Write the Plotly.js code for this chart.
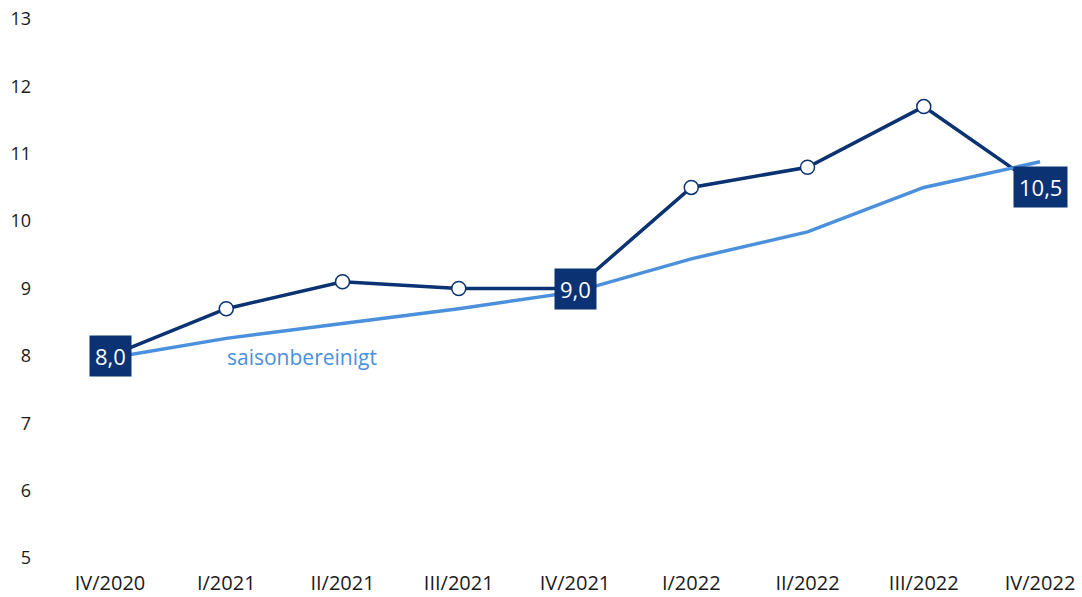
<!DOCTYPE html>
<html>
<head>
<meta charset="utf-8">
<script src="https://cdn.plot.ly/plotly-3.0.1.min.js"></script>
<style>html,body{margin:0;padding:0;background:#fff;}#chart{width:1082px;height:597px;}</style>
</head>
<body>
<div id="chart"></div>
<script>
const categories = ["IV/2020","I/2021","II/2021","III/2021","IV/2021","I/2022","II/2022","III/2022","IV/2022"];
const actual = [8.0, 8.7, 9.1, 9.0, 9.0, 10.5, 10.8, 11.7, 10.5];
const seasonallyAdjusted = [7.97, 8.26, 8.48, 8.70, 8.95, 9.44, 9.84, 10.5, 10.88];
const yTicks = [5,6,7,8,9,10,11,12,13];
const labelledIdx = [0, 4, 8];
const seriesLabel = "saisonbereinigt";

const navy = "#0b3272";
const light = "#4a90dc";
const fontFam = "Open Sans, Noto Sans, sans-serif";

const xIdx = categories.map((c,i)=>i);

const traces = [
  {x: xIdx, y: actual, type:"scatter", mode:"lines+markers",
   line:{color:navy, width:3.5},
   marker:{size:14, color:"#ffffff", line:{color:navy, width:1.5}},
   hoverinfo:"skip"},
  {x: xIdx, y: seasonallyAdjusted, type:"scatter", mode:"lines",
   line:{color:light, width:3.5}, hoverinfo:"skip"}
];

const annotations = labelledIdx.map(i => ({
  x: i, y: actual[i], xref:"x", yref:"y",
  text: actual[i].toFixed(1).replace(".", ","),
  showarrow:false, bgcolor:navy, borderpad:5,
  font:{family:fontFam, size:22, color:"#ffffff"},
  xanchor:"center", yanchor:"middle"
}));
annotations.push({
  x: 1, y: 7.98, xref:"x", yref:"y", text: seriesLabel, showarrow:false,
  xanchor:"left", yanchor:"middle", xshift:-1,
  font:{family:fontFam, size:21, color:light}
});

const layout = {
  width:1082, height:597,
  margin:{l:32, r:20, t:19, b:39},
  paper_bgcolor:"#ffffff", plot_bgcolor:"#ffffff",
  showlegend:false,
  font:{family:fontFam, color:"#1a1a1a"},
  xaxis:{range:[-0.671, 8.189], tickvals:xIdx, ticktext:categories,
         showgrid:false, zeroline:false, showline:false, ticks:"",
         ticklabelstandoff:11, tickfont:{size:20, color:"#1a1a1a", family:fontFam},
         fixedrange:true},
  yaxis:{range:[5,13], tickvals:yTicks, ticktext:yTicks.map(String),
         showgrid:false, zeroline:false, showline:false, ticks:"",
         tickfont:{size:18, color:"#1a1a1a", family:fontFam}, fixedrange:true},
  annotations: annotations
};

Plotly.newPlot("chart", traces, layout, {displayModeBar:false, staticPlot:true});
</script>
</body>
</html>
